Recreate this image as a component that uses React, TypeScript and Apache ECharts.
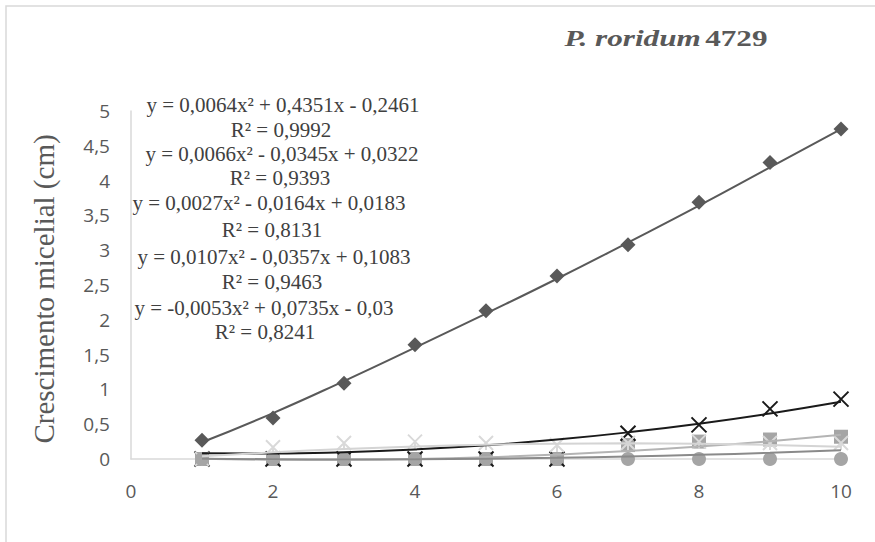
import React, { useEffect, useRef } from "react";
import * as echarts from "echarts";

const xValues = [1, 2, 3, 4, 5, 6, 7, 8, 9, 10];
const diamondValues = [0.27, 0.59, 1.09, 1.64, 2.13, 2.63, 3.08, 3.69, 4.26, 4.74];
const squareValues = [0, 0, 0, 0, 0, 0, 0.2, 0.25, 0.28, 0.32];
const crossValues = [0, 0, 0, 0, 0, 0, 0.37, 0.49, 0.72, 0.86];
const starValues = [0, 0.17, 0.23, 0.25, 0.23, 0.2, 0.23, 0.25, 0.23, 0.23];
const circleValues = [0, 0, 0, 0, 0, 0, 0, 0, 0, 0];

// trendline values read at x = 1..10
const trendDiamond = [0.24, 0.66, 1.12, 1.6, 2.09, 2.59, 3.11, 3.64, 4.19, 4.74];
const trendSquare = [0.004, -0.01, -0.012, 0, 0.025, 0.063, 0.114, 0.179, 0.256, 0.347];
const trendThird = [0.005, -0.004, -0.007, -0.004, 0.004, 0.017, 0.036, 0.06, 0.089, 0.124];
const trendCross = [0.083, 0.08, 0.098, 0.137, 0.197, 0.279, 0.383, 0.508, 0.654, 0.821];
const trendStar = [0.038, 0.096, 0.143, 0.179, 0.205, 0.22, 0.225, 0.219, 0.202, 0.175];

const equationLines = [
  "y = 0,0064x² + 0,4351x - 0,2461",
  "R² = 0,9992",
  "y = 0,0066x² - 0,0345x + 0,0322",
  "R² = 0,9393",
  "y = 0,0027x² - 0,0164x + 0,0183",
  "R² = 0,8131",
  "y = 0,0107x² - 0,0357x + 0,1083",
  "R² = 0,9463",
  "y = -0,0053x² + 0,0735x - 0,03",
  "R² = 0,8241",
];
const equationCenters = [283, 281, 282, 280, 269, 272, 274, 272, 264, 265];
const equationTops = [105, 130, 154, 178, 203, 230, 257, 282, 308, 332];

const pairs = (ys: number[]) => xValues.map((x, i) => [x, ys[i]]);

const X_PATH = "path://M0,0L10,10M10,0L0,10";
const STAR_PATH = "path://M0,0L10,10M10,0L0,10M5,5L5,10";

export default function App() {
  const ref = useRef<HTMLDivElement>(null);
  useEffect(() => {
    if (!ref.current) return;
    const chart = echarts.init(ref.current, undefined, { renderer: "svg" });
    const serif = "'Liberation Serif', 'Times New Roman', serif";
    const trend = (data: number[], color: string, width: number) => ({
      type: "line",
      data: pairs(data),
      smooth: true,
      showSymbol: false,
      symbol: "none",
      clip: false,
      z: 5,
      lineStyle: { color, width },
      silent: true,
    });
    chart.setOption({
      animation: false,
      backgroundColor: "#ffffff",
      grid: { left: 131, right: 34, top: 111, bottom: 83, containLabel: false },
      xAxis: {
        type: "value",
        min: 0,
        max: 10,
        interval: 2,
        axisLine: { show: true, lineStyle: { color: "#d9d9d9", width: 1.5 } },
        axisTick: { show: false },
        splitLine: { show: false },
        axisLabel: { color: "#595959", fontSize: 19, margin: 22, fontFamily: "'Open Sans', sans-serif" },
      },
      yAxis: {
        type: "value",
        min: 0,
        max: 5,
        interval: 0.5,
        axisLine: { show: true, lineStyle: { color: "#d9d9d9", width: 1.5 } },
        axisTick: { show: false },
        splitLine: { show: false },
        axisLabel: {
          color: "#595959",
          fontSize: 19,
          margin: 21,
          fontFamily: "'Open Sans', sans-serif",
          formatter: (v: number) => String(v).replace(".", ","),
        },
      },
      graphic: [
        {
          type: "rect",
          shape: { x: 6, y: 6, width: 900, height: 600 },
          style: { fill: "none", stroke: "#d9d9d9", lineWidth: 1.5 },
          silent: true,
        },
        {
          type: "text",
          x: 44,
          y: 289,
          rotation: Math.PI / 2,
          style: {
            text: "Crescimento micelial (cm)",
            align: "center",
            verticalAlign: "middle",
            fontFamily: serif,
            fontSize: 29,
            fill: "#595959",
          },
        },
        {
          type: "text",
          x: 666,
          y: 38,
          scaleX: 1.3,
          style: {
            text: "{a|P. roridum} {b|4729}",
            align: "center",
            verticalAlign: "middle",
            rich: {
              a: { fontFamily: serif, fontSize: 24, fontWeight: "bold", fontStyle: "italic", fill: "#595959" },
              b: { fontFamily: serif, fontSize: 24, fontWeight: "bold", fill: "#595959" },
            },
          },
        },
        ...equationLines.map((t, i) => ({
          type: "text",
          x: equationCenters[i],
          y: equationTops[i],
          z: 10,
          style: {
            text: t,
            align: "center",
            verticalAlign: "middle",
            fontFamily: serif,
            fontSize: 21,
            fill: "#404040",
          },
        })),
      ],
      series: [
        {
          type: "scatter",
          data: pairs(diamondValues),
          symbol: "diamond",
          symbolSize: [15, 15],
          itemStyle: { color: "#595959", opacity: 1 },
          z: 2,
        },
        {
          type: "scatter",
          data: pairs(squareValues),
          symbol: "rect",
          symbolSize: 14,
          itemStyle: { color: "#a5a5a5", opacity: 1 },
          z: 2,
        },
        {
          type: "scatter",
          data: pairs(crossValues),
          symbol: X_PATH,
          symbolSize: 15,
          itemStyle: { color: "none", borderColor: "#1a1a1a", borderWidth: 2, opacity: 1 },
          z: 3,
        },
        {
          type: "scatter",
          data: pairs(starValues),
          symbol: STAR_PATH,
          symbolSize: 14,
          itemStyle: { color: "none", borderColor: "#d9d9d9", borderWidth: 2, opacity: 1 },
          z: 3,
        },
        {
          type: "scatter",
          data: pairs(circleValues),
          symbol: "circle",
          symbolSize: 14,
          itemStyle: { color: "#a5a5a5", opacity: 1 },
          z: 4,
        },
        trend(trendDiamond, "#595959", 2),
        trend(trendSquare, "#b4b4b4", 2),
        trend(trendThird, "#8a8a8a", 2),
        trend(trendCross, "#1a1a1a", 2),
        trend(trendStar, "#d4d4d4", 2),
      ],
    });
    return () => chart.dispose();
  }, []);
  return (
    <div
      ref={ref}
      style={{ position: "fixed", left: 0, top: 0, width: 875, height: 542 }}
    />
  );
}
